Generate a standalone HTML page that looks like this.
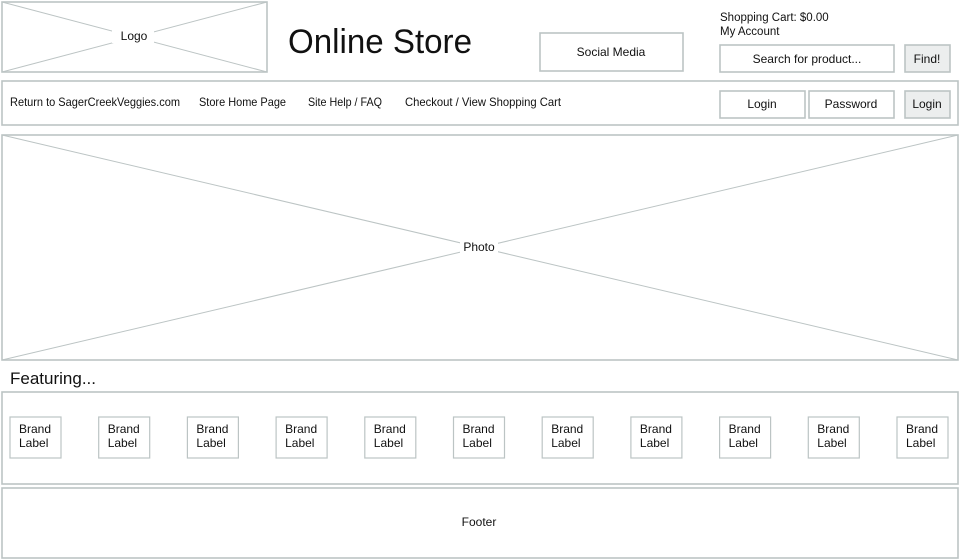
<!DOCTYPE html>
<html><head><meta charset="utf-8"><style>
html,body{margin:0;padding:0;background:#fff;width:960px;height:560px;overflow:hidden}
svg{display:block}
text{font-family:"Liberation Sans",sans-serif;fill:#111}
</style></head><body>
<svg width="960" height="560" viewBox="0 0 960 560" xmlns="http://www.w3.org/2000/svg">
<g fill="none" stroke="#bcc4c4" stroke-width="1.6">
<rect x="2" y="2" width="265" height="70"/>
<line x1="2" y1="2" x2="267" y2="72" stroke-width="1"/>
<line x1="2" y1="72" x2="267" y2="2" stroke-width="1"/>
<rect x="540" y="33" width="143" height="38"/>
<rect x="720" y="45" width="174" height="27"/>
<rect x="905" y="45" width="45" height="27" fill="#eceeee"/>
<rect x="2" y="81" width="956" height="44"/>
<rect x="720" y="91" width="85" height="27"/>
<rect x="809" y="91" width="85" height="27"/>
<rect x="905" y="91" width="45" height="27" fill="#eceeee"/>
<rect x="2" y="135" width="956" height="225"/>
<line x1="2" y1="135" x2="958" y2="360" stroke-width="1"/>
<line x1="2" y1="360" x2="958" y2="135" stroke-width="1"/>
<rect x="2" y="392" width="956" height="92"/>
<rect x="2" y="488" width="956" height="70"/>
</g>
<rect x="112" y="27" width="42" height="16" fill="#fff"/>
<rect x="460" y="238" width="38" height="16" fill="#fff"/>
<g font-size="12" text-anchor="middle">
<text x="134" y="40">Logo</text>
<text x="611" y="56">Social Media</text>
<text x="807" y="63">Search for product...</text>
<text x="927" y="63">Find!</text>
<text x="762" y="108">Login</text>
<text x="851" y="108">Password</text>
<text x="927" y="108">Login</text>
<text x="479" y="251">Photo</text>
<text x="479" y="526">Footer</text>
</g>
<text x="288" y="53" font-size="34" textLength="184" lengthAdjust="spacingAndGlyphs">Online Store</text>
<g font-size="11.5">
<text x="720" y="21">Shopping Cart: $0.00</text>
<text x="720" y="35">My Account</text>
</g>
<g font-size="12">
<text x="10" y="106" textLength="170" lengthAdjust="spacingAndGlyphs">Return to SagerCreekVeggies.com</text>
<text x="199" y="106" textLength="87" lengthAdjust="spacingAndGlyphs">Store Home Page</text>
<text x="308" y="106" textLength="74" lengthAdjust="spacingAndGlyphs">Site Help / FAQ</text>
<text x="405" y="106" textLength="156" lengthAdjust="spacingAndGlyphs">Checkout / View Shopping Cart</text>
</g>
<text x="10" y="384" font-size="17">Featuring...</text>
<g id="brands" font-size="12">
<rect x="10" y="417" width="51" height="41" fill="none" stroke="#bcc4c4" stroke-width="1.2"/>
<text x="19" y="433">Brand</text><text x="19" y="447">Label</text>
</g>
<use href="#brands" x="88.7"/>
<use href="#brands" x="177.4"/>
<use href="#brands" x="266.1"/>
<use href="#brands" x="354.8"/>
<use href="#brands" x="443.5"/>
<use href="#brands" x="532.2"/>
<use href="#brands" x="620.9"/>
<use href="#brands" x="709.6"/>
<use href="#brands" x="798.3"/>
<use href="#brands" x="887"/>
</svg>
</body></html>
